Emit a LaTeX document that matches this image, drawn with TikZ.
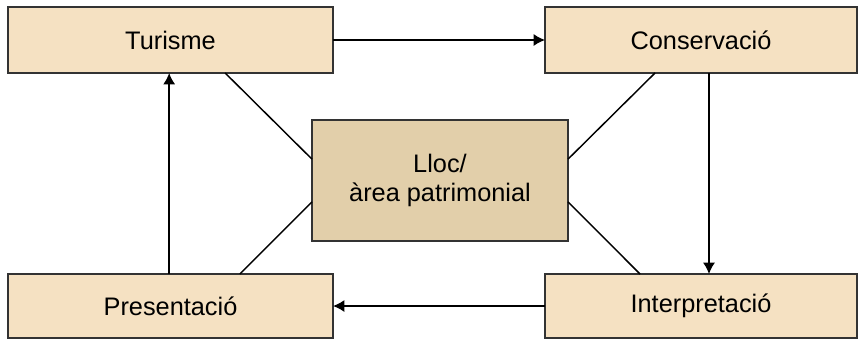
\documentclass[tikz,border=0pt]{standalone}
\usepackage{fontspec}
\setmainfont{Liberation Sans}
\usepackage{tikz}
\usetikzlibrary{arrows,arrows.meta,positioning}
\usepackage{xcolor}
\definecolor{pwheat}{RGB}{245,225,194}
\definecolor{pdarkwheat}{RGB}{226,207,170}
\definecolor{pborder}{RGB}{51,51,51}
\tikzstyle{arrow} = [line width=1.1pt,-{Latex[length=8.5pt,width=9pt]},color=black]
\tikzstyle{link} = [line width=1.1pt,color=black]
\tikzstyle{stage} = [rectangle, draw=pborder, fill=pwheat, line width=1.5pt, inner sep=0pt, outer sep=0pt, text centered, font=\fontsize{19}{22}\selectfont]

\begin{document}
\begin{tikzpicture}[x=0.75pt, y=-0.75pt]
    \useasboundingbox (0,0) rectangle (864,340);

    % Top row
    \node[stage, minimum width=243.75pt, minimum height=49.5pt] (turisme) at (170.5, 40) {Turisme};
    \node[stage, minimum width=234pt, minimum height=49.5pt] (conservacio) at (701, 40) {Conservació};

    % Heritage site in the middle
    \node[stage, fill=pdarkwheat, minimum width=192pt, minimum height=90.75pt, align=center] (lloc) at (440, 180.5) {Lloc/\\àrea patrimonial};

    % Bottom row
    \node[stage, minimum width=243.75pt, minimum height=48pt] (presentacio) at (170.5, 306) {Presentació};
    \node[stage, minimum width=234pt, minimum height=48pt] (interpretacio) at (701, 306) {Interpretació};

    % Cycle
    \draw[arrow] (turisme.east) -- (conservacio.west);
    \draw[arrow] ([xshift=6pt]conservacio.south) -- ([xshift=6pt]interpretacio.north);
    \draw[arrow] (interpretacio.west) -- (presentacio.east);
    \draw[arrow] ([xshift=-1pt]presentacio.north) -- ([xshift=-1pt]turisme.south);

    % Links to the site
    \draw[link] ([xshift=41pt]turisme.south) -- ([yshift=16pt]lloc.west);
    \draw[link] ([xshift=-34.5pt]conservacio.south) -- ([yshift=16pt]lloc.east);
    \draw[link] ([xshift=52pt]presentacio.north) -- ([yshift=-16pt]lloc.west);
    \draw[link] ([xshift=-45.75pt]interpretacio.north) -- ([yshift=-16pt]lloc.east);
\end{tikzpicture}
\end{document}
